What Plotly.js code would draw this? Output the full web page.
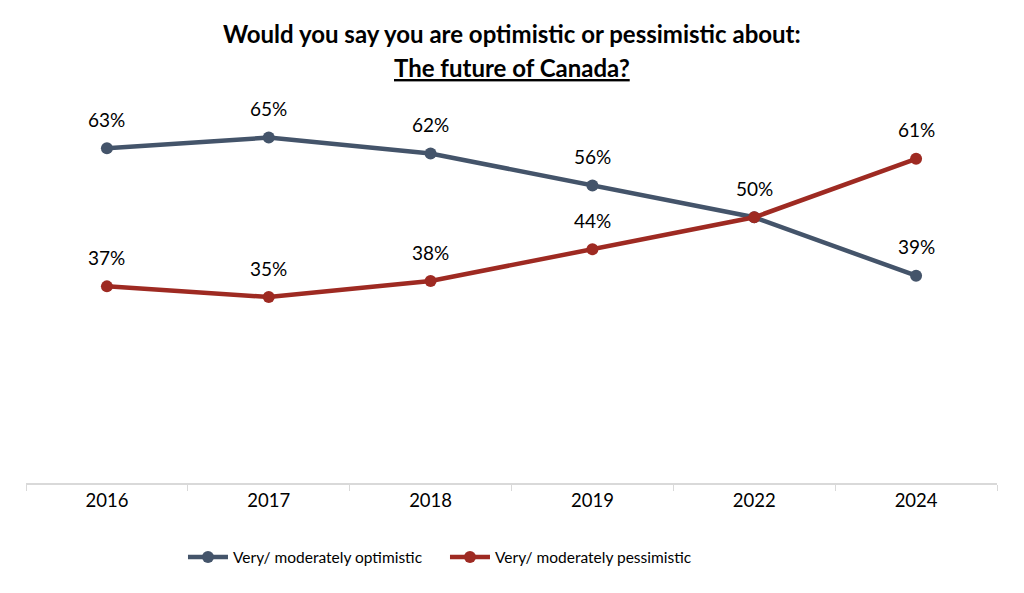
<!DOCTYPE html>
<html>
<head>
<meta charset="utf-8">
<script src="https://cdn.plot.ly/plotly-3.0.1.min.js"></script>
<style>
  html, body { margin: 0; padding: 0; background: #fff; }
  #chart { width: 1024px; height: 593px; }
</style>
</head>
<body>
<div id="chart"></div>
<script>
// Survey years and shares (%) for each response group
const years = ['2016', '2017', '2018', '2019', '2022', '2024'];
const optimistic = [63, 65, 62, 56, 50, 39];
const pessimistic = [37, 35, 38, 44, 50, 61];
const seriesNames = ['Very/ moderately optimistic', 'Very/ moderately pessimistic'];
const titleLines = ['Would you say you are optimistic or pessimistic about:', 'The future of Canada?'];

const FONT = 'Lato, "Open Sans", sans-serif';
const BLUE = '#44546A';
const RED = '#9E2A22';

function lineTrace(values, name, color) {
  return {
    x: years,
    y: values,
    name: name,
    type: 'scatter',
    mode: 'lines+markers',
    line: { color: color, width: 4.5 },
    marker: { color: color, size: 12 },
    hoverinfo: 'skip'
  };
}

// Value labels placed above each point (x given as category index)
function labels(values) {
  return values.map((v, i) => ({
    x: i, y: v, xref: 'x', yref: 'y',
    text: v + '%', showarrow: false, yshift: 29,
    font: { family: FONT, size: 19, color: '#000' }
  }));
}

// Where both series meet at 50% a single label is shown
const optLabels = labels(optimistic).filter((a, i) => optimistic[i] !== pessimistic[i]);
const pesLabels = labels(pessimistic);

const titleAnn = [
  {
    x: 0.5, y: 1, xref: 'paper', yref: 'paper', yshift: 111 - 33,
    xanchor: 'center', yanchor: 'middle', showarrow: false,
    text: '<b>' + titleLines[0] + '</b>',
    font: { family: FONT, size: 24, color: '#000' }
  },
  {
    x: 0.5, y: 1, xref: 'paper', yref: 'paper', yshift: 111 - 67,
    xanchor: 'center', yanchor: 'middle', showarrow: false,
    text: '<b><u>' + titleLines[1] + '</u></b>',
    font: { family: FONT, size: 24, color: '#000' }
  }
];

const layout = {
  width: 1024,
  height: 593,
  margin: { l: 26, r: 27, t: 111, b: 110 },
  paper_bgcolor: '#fff',
  plot_bgcolor: '#fff',
  xaxis: {
    type: 'category',
    range: [-0.5, 5.5],
    showgrid: false,
    zeroline: false,
    showline: true,
    linecolor: '#D9D9D9',
    linewidth: 1.5,
    ticks: 'outside',
    ticklen: 6,
    tickcolor: '#D9D9D9',
    tickson: 'boundaries',
    tickfont: { family: FONT, size: 18.5, color: '#000' },
    fixedrange: true
  },
  yaxis: {
    range: [0, 70],
    visible: false,
    showgrid: false,
    zeroline: false,
    fixedrange: true
  },
  showlegend: true,
  legend: {
    orientation: 'h',
    x: 0.4315, xanchor: 'center',
    y: -0.2, yanchor: 'middle',
    font: { family: FONT, size: 15.5, color: '#000' },
    itemwidth: 40,
    entrywidth: 207,
    entrywidthmode: 'pixels',
    traceorder: 'normal'
  },
  annotations: titleAnn.concat(optLabels, pesLabels)
};

Plotly.newPlot('chart', [
  lineTrace(optimistic, seriesNames[0], BLUE),
  lineTrace(pessimistic, seriesNames[1], RED)
], layout, { displayModeBar: false, staticPlot: true });
</script>
</body>
</html>
